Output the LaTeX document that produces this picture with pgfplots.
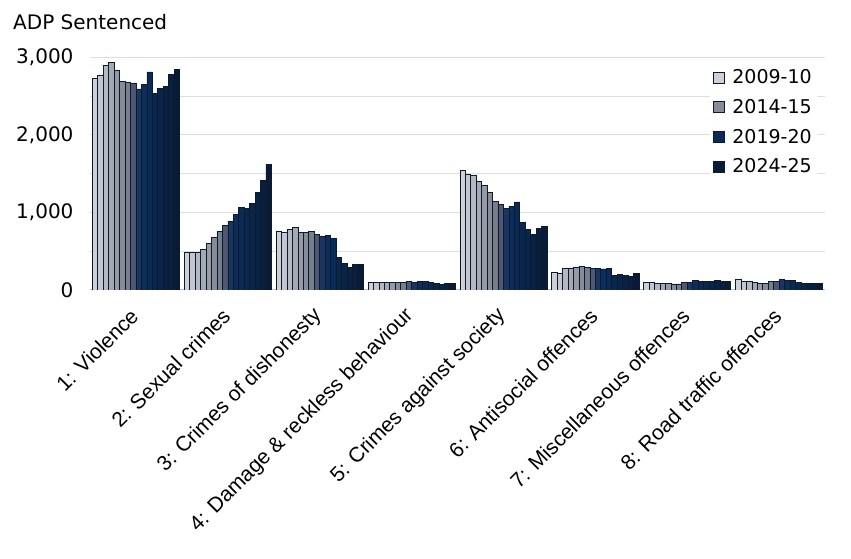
\documentclass[border=0pt]{standalone}
\usepackage{pgfplots}
\pgfplotsset{compat=1.18}
\usepackage{pgfplotstable}
\usepackage{fontspec}
\setmainfont{DejaVu Sans}
\newfontfamily\arialf{Liberation Sans}
\definecolor{c0}{HTML}{CDD0D5}
\definecolor{c1}{HTML}{C3C6CC}
\definecolor{c2}{HTML}{B4B8BF}
\definecolor{c3}{HTML}{A5A9B1}
\definecolor{c4}{HTML}{969AA3}
\definecolor{c5}{HTML}{878C96}
\definecolor{c6}{HTML}{787E8A}
\definecolor{c7}{HTML}{4E5872}
\definecolor{c8}{HTML}{1B3560}
\definecolor{c9}{HTML}{0D2D5A}
\definecolor{c10}{HTML}{0B2A55}
\definecolor{c11}{HTML}{0A284F}
\definecolor{c12}{HTML}{0A2548}
\definecolor{c13}{HTML}{092242}
\definecolor{c14}{HTML}{091F3D}
\definecolor{c15}{HTML}{081C38}
\definecolor{barline}{HTML}{0C1A30}
\definecolor{gridc}{HTML}{DEDEDE}

% columns: x = offence group, y0..y15 = 2009-10 ... 2024-25
\pgfplotstableread{
x y0 y1 y2 y3 y4 y5 y6 y7 y8 y9 y10 y11 y12 y13 y14 y15
0 2729 2776 2893 2936 2832 2695 2686 2665 2596 2652 2815 2540 2605 2626 2785 2845
1 481 481 481 520 597 675 752 830 890 976 1062 1053 1122 1255 1418 1616
2 763 750 780 810 746 746 759 720 694 707 664 422 345 293 332 332
3 99 95 95 99 95 95 99 108 99 112 112 95 86 73 82 86
4 1543 1496 1478 1405 1349 1259 1142 1108 1056 1082 1138 875 784 720 793 823
5 224 216 284 284 297 306 293 280 276 272 280 190 198 185 177 211
6 95 99 82 86 90 78 78 95 103 121 108 108 112 121 112 112
7 138 116 116 95 82 82 108 116 134 125 125 95 86 82 82 90
}\data

\pgfplotsset{yr/.style={ybar, bar width=5.45pt, bar shift=#1, draw=barline, line width=0.6pt}}

\begin{document}
\begin{tikzpicture}
\useasboundingbox (0,0) rectangle (851pt,559pt);
\node[anchor=base west, font=\fontsize{20}{24}\selectfont, inner sep=0pt] at (13pt,529pt) {ADP Sentenced};
\begin{axis}[
  at={(90pt,269pt)}, anchor=south west,
  scale only axis, width=735pt, height=232.5pt,
  xmin=-0.5, xmax=7.5, ymin=0, ymax=3000,
  xtick={0,...,7},
  xticklabels={{1: Violence},{2: Sexual crimes},{3: Crimes of dishonesty},{4: Damage \& reckless behaviour},{5: Crimes against society},{6: Antisocial offences},{7: Miscellaneous offences},{8: Road traffic offences}},
  ytick={0,1000,2000,3000}, minor ytick={500,1500,2500},
  ymajorgrids, yminorgrids,
  major grid style={draw=gridc, line width=1pt},
  minor grid style={draw=gridc, line width=1pt},
  axis x line*=bottom, axis y line*=left,
  y axis line style={draw=none},
  x axis line style={draw=gray!50, line width=1pt, -},
  major tick length=0pt, minor tick length=0pt,
  yticklabel style={font=\fontsize{20}{24}\selectfont, xshift=-13pt},
  /pgf/number format/assume math mode=true,
  /pgf/number format/1000 sep={,},
  xticklabel style={font=\arialf\fontsize{21}{25}\selectfont, yshift=-20pt, xshift=1pt, rotate=45, anchor=east},
  legend style={at={(0.843,0.965)}, anchor=north west, draw=none, fill=white,
    font=\fontsize{19}{23}\selectfont, row sep=10pt, column sep=6pt},
  legend cell align=left,
  legend image code/.code={\draw[#1, draw=barline, line width=0.6pt] (0pt,-5.5pt) rectangle (11pt,5.5pt);},
]
\addplot[yr=-40.875pt, fill=c0] table[x=x,y=y0]{\data};
\addplot[yr=-35.425pt, fill=c1, forget plot] table[x=x,y=y1]{\data};
\addplot[yr=-29.975pt, fill=c2, forget plot] table[x=x,y=y2]{\data};
\addplot[yr=-24.525pt, fill=c3, forget plot] table[x=x,y=y3]{\data};
\addplot[yr=-19.075pt, fill=c4, forget plot] table[x=x,y=y4]{\data};
\addplot[yr=-13.625pt, fill=c5] table[x=x,y=y5]{\data};
\addplot[yr=-8.175pt, fill=c6, forget plot] table[x=x,y=y6]{\data};
\addplot[yr=-2.725pt, fill=c7, forget plot] table[x=x,y=y7]{\data};
\addplot[yr=2.725pt, fill=c8, forget plot] table[x=x,y=y8]{\data};
\addplot[yr=8.175pt, fill=c9, forget plot] table[x=x,y=y9]{\data};
\addplot[yr=13.625pt, fill=c10] table[x=x,y=y10]{\data};
\addplot[yr=19.075pt, fill=c11, forget plot] table[x=x,y=y11]{\data};
\addplot[yr=24.525pt, fill=c12, forget plot] table[x=x,y=y12]{\data};
\addplot[yr=29.975pt, fill=c13, forget plot] table[x=x,y=y13]{\data};
\addplot[yr=35.425pt, fill=c14, forget plot] table[x=x,y=y14]{\data};
\addplot[yr=40.875pt, fill=c15] table[x=x,y=y15]{\data};
\legend{2009-10,2014-15,2019-20,2024-25}
\end{axis}
\end{tikzpicture}
\end{document}
